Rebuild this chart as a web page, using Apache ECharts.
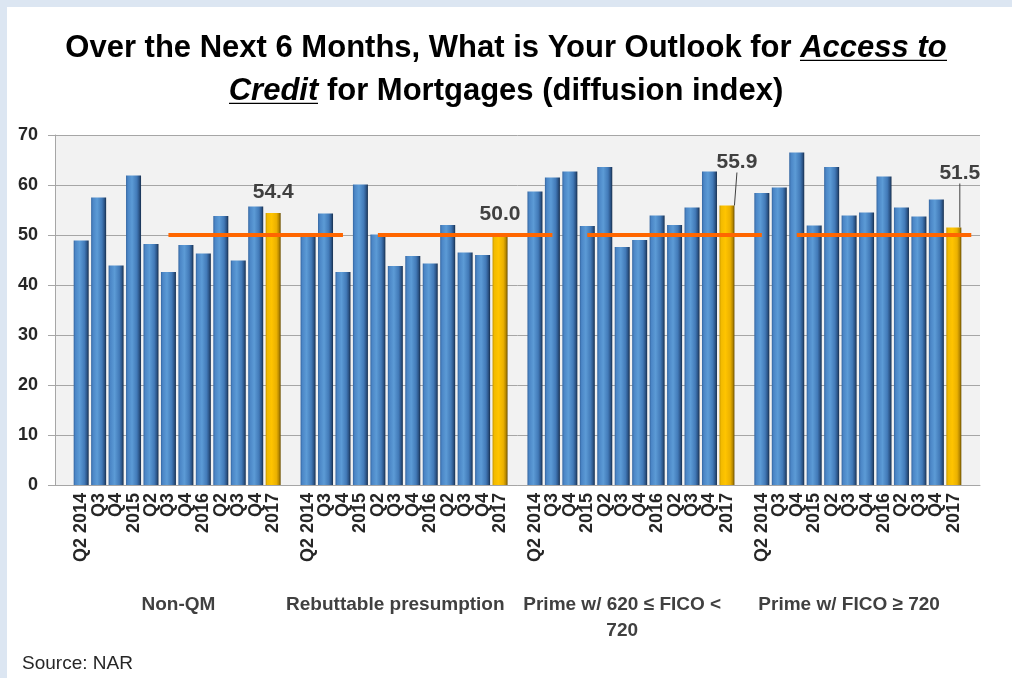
<!DOCTYPE html>
<html>
<head>
<meta charset="utf-8">
<script src="https://cdn.jsdelivr.net/npm/echarts@6/dist/echarts.min.js"></script>
<style>
  html, body { margin: 0; padding: 0; background: #dce6f2; }
  #paper { position: absolute; left: 7px; top: 7px; width: 1005px; height: 671px; background: #ffffff; }
  #chart { position: absolute; left: 0; top: 0; width: 1012px; height: 678px; }
</style>
</head>
<body>
<div id="paper"></div>
<div id="chart"></div>
<script>
// ---- data ----
const quarters = ['Q2 2014', 'Q3', 'Q4', '2015', 'Q2', 'Q3', 'Q4', '2016', 'Q2', 'Q3', 'Q4', '2017'];
const groupNames = ['Non-QM', 'Rebuttable presumption', 'Prime w/ 620 ≤ FICO <\n720', 'Prime w/ FICO ≥ 720'];
const nonQM      = [48.9, 57.5, 43.9, 61.9, 48.2, 42.6, 48.0, 46.3, 53.8, 44.9, 55.7, 54.4];
const rebuttable = [49.8, 54.3, 42.6, 60.1, 50.1, 43.8, 45.8, 44.3, 52.0, 46.5, 46.0, 50.0];
const primeMid   = [58.7, 61.5, 62.7, 51.8, 63.6, 47.6, 49.0, 53.9, 52.0, 55.5, 62.7, 55.9];
const primeHigh  = [58.4, 59.5, 66.5, 51.9, 63.6, 53.9, 54.5, 61.7, 55.5, 53.7, 57.1, 51.5];
// neutral (50) reference line, one entry per category slot (incl. blank separators)
const neutralLine = ['-','-','-','-','-','-',50,50,50,50,50,50,50,50,50,50,50,'-',
                     50,50,50,50,50,50,50,50,50,50,50,'-',
                     50,50,50,50,50,50,50,50,50,50,50,'-',
                     50,50,50,50,50,50,50,50,50,50,50];
const yTicks = { min: 0, max: 70, interval: 10 };
const sourceText = 'Source: NAR';

// ---- styles ----
const blueFill = new echarts.graphic.LinearGradient(0, 0, 1, 0, [
  { offset: 0, color: '#3465a0' }, { offset: 0.12, color: '#4b86c6' },
  { offset: 0.4, color: '#5c9bd6' }, { offset: 0.72, color: '#427ab8' },
  { offset: 0.88, color: '#2c5588' }, { offset: 1, color: '#172f4d' }
]);
const goldFill = new echarts.graphic.LinearGradient(0, 0, 1, 0, [
  { offset: 0, color: '#c79600' }, { offset: 0.12, color: '#f2bb00' },
  { offset: 0.4, color: '#ffc400' }, { offset: 0.72, color: '#ebb100' },
  { offset: 0.88, color: '#b88900' }, { offset: 1, color: '#6b4f00' }
]);
const labelShift = {}; // highlighted bars whose value label is pulled away with a leader line

// ---- build category slots ----
const groups = [nonQM, rebuttable, primeMid, primeHigh];
const categories = [], barData = [], groupAxis = [];
groups.forEach((vals, g) => {
  categories.push(''); barData.push('-'); groupAxis.push('');
  vals.forEach((v, i) => {
    categories.push(quarters[i]);
    groupAxis.push('');
    if (i === vals.length - 1) {
      const moved = g >= 2;
      barData.push({
        value: v,
        itemStyle: { color: goldFill },
        label: { show: true },
        labelLine: { show: moved, lineStyle: { color: '#404040', width: 1 } }
      });
    } else {
      barData.push(v);
    }
  });
  const idx = groupAxis.length - 7;
  groupAxis[idx] = g === 0
    ? { value: groupNames[g], textStyle: { padding: [0, 0, 0, 20] } }
    : groupNames[g];
});
categories.push(''); barData.push('-'); groupAxis.push('');
labelShift[barData.length - 2] = [6, -34];       // 51.5
labelShift[barData.length - 2 - 13] = [10, -23]; // 55.9

// underline image for the title's underlined words
const ul = document.createElement('canvas');
ul.width = 4; ul.height = 43;
const ctx = ul.getContext('2d');
ctx.fillStyle = '#000';
ctx.fillRect(0, 37, 4, 2);

const FONT = "'Liberation Sans', Arial, sans-serif";
const chart = echarts.init(document.getElementById('chart'), null, { renderer: 'canvas' });
chart.setOption({
  backgroundColor: 'transparent',
  animation: false,
  title: {
    left: 'center',
    top: 22,
    text: '{b|Over the Next 6 Months, What is Your Outlook for }{u|Access to}\n{u|Credit}{b| for Mortgages (diffusion index)}',
    textStyle: {
      rich: {
        b: { fontFamily: FONT, fontSize: 31, fontWeight: 'bold', color: '#000', lineHeight: 43 },
        u: { fontFamily: FONT, fontSize: 31, fontWeight: 'bold', fontStyle: 'italic', color: '#000', lineHeight: 43,
             backgroundColor: { image: ul } }
      }
    }
  },
  graphic: [{
    type: 'text', left: 22, top: 654,
    style: { text: sourceText, fontFamily: FONT, fontSize: 19, fill: '#262626' }
  }],
  grid: {
    left: 55, right: 32, top: 135, bottom: 193,
    show: true, backgroundColor: '#f2f2f2', borderWidth: 0
  },
  xAxis: [{
    type: 'category', data: categories, gridIndex: 0,
    axisLine: { lineStyle: { color: '#a6a6a6', width: 1 } },
    axisTick: { show: false },
    axisLabel: { interval: 0, rotate: 90, margin: 8, fontFamily: FONT, fontSize: 18, fontWeight: 'bold', color: '#262626' },
    splitLine: { show: false }
  }, {
    type: 'category', data: groupAxis, gridIndex: 0, position: 'bottom', offset: 107,
    axisLine: { show: false }, axisTick: { show: false },
    axisLabel: { interval: 0, margin: 0, fontFamily: FONT, fontSize: 19, fontWeight: 'bold', color: '#404040', lineHeight: 26, align: 'center' }
  }],
  yAxis: {
    type: 'value', min: yTicks.min, max: yTicks.max, interval: yTicks.interval,
    axisLine: { show: true, lineStyle: { color: '#a6a6a6' } },
    axisTick: { show: true, inside: false, length: 7, lineStyle: { color: '#a6a6a6' } },
    axisLabel: { margin: 17, fontFamily: FONT, fontSize: 18, fontWeight: 'bold', color: '#262626' },
    splitLine: { lineStyle: { color: '#a6a6a6', width: 1 } }
  },
  series: [{
    type: 'bar', data: barData, xAxisIndex: 0,
    barCategoryGap: '14%',
    itemStyle: { color: blueFill },
    label: {
      show: false, position: 'top', distance: 10,
      fontFamily: FONT, fontSize: 21, fontWeight: 'bold', color: '#404040',
      formatter: p => Number(p.value).toFixed(1)
    },
    labelLayout: p => {
      const s = labelShift[p.dataIndex];
      return s ? { dx: s[0], dy: s[1] } : {};
    },
    z: 2
  }, {
    type: 'line', data: neutralLine, xAxisIndex: 0,
    symbol: 'none', connectNulls: false,
    lineStyle: { color: '#ff6600', width: 4 },
    z: 5
  }]
});
</script>
</body>
</html>
